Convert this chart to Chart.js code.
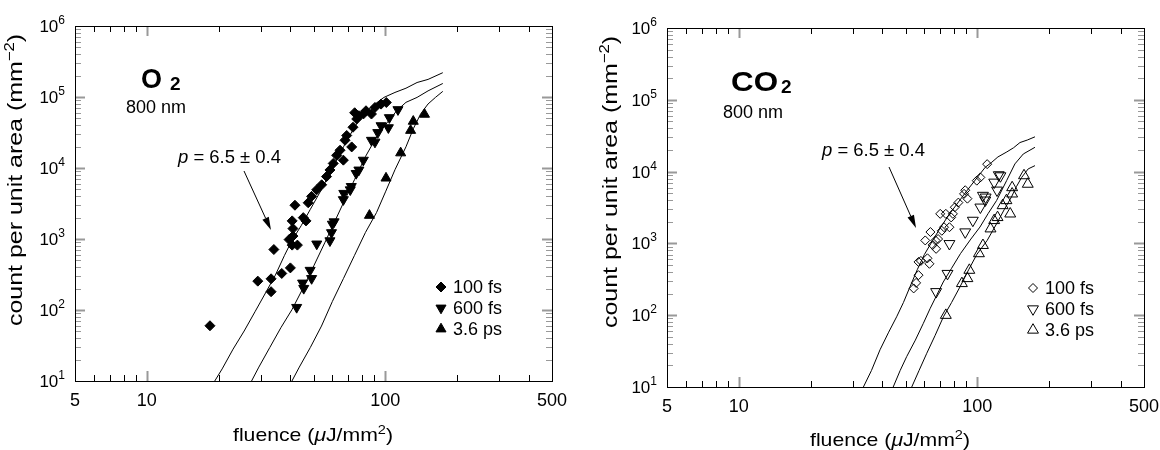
<!DOCTYPE html>
<html>
<head>
<meta charset="utf-8">
<script src="https://cdn.jsdelivr.net/npm/chart.js@4.4.1/dist/chart.umd.min.js"></script>
<style>
  html, body { margin: 0; padding: 0; background: #fff; }
  #wrap { position: relative; width: 1160px; height: 450px; }
  canvas { position: absolute; top: 0; }
  #o2 { left: 0; }
  #co2 { left: 580px; }
</style>
</head>
<body>
<div id="wrap">
  <canvas id="o2" width="580" height="450"></canvas>
  <canvas id="co2" width="580" height="450"></canvas>
</div>
<script>
// axis ticks and legend text
const xTickValues = [5, 10, 100, 500];
const xTickLabels = ['5', '10', '100', '500'];
const yTickExponents = [1, 2, 3, 4, 5, 6];
const seriesNames = ['100 fs', '600 fs', '3.6 ps'];

// O2, measured points [fluence, count]
const o2Fs100 = [[18.4,60],[29.2,255],[33.2,275],[33.2,181],[34.1,711],[36.8,327],[40,392],[39.5,980],
  [40.7,1800],[41,1400],[41,1100],[40.7,820],[42.8,820],[41.8,2990],[45.3,2000],[46.5,1800],[47.5,3240],
  [49.1,3990],[51.6,4940],[54.1,5800],[56.7,7570],[58.6,9380],[60.5,11600],[62.5,15100],[64.6,17800],
  [66.7,12900],[67.8,24600],[68.9,28700],[72.3,19800],[73.2,37500],[75.9,49000],[74.4,60000],[77.5,54500],
  [80.9,57600],[83,64000],[87.5,57600],[90.5,71300],[96,79400],[101,83600]];
const o2Fs600 = [[42.5,109],[45.5,202],[45,240],[49.1,278],[48.4,363],[51.6,852],[58.6,946],[59.5,1230],
  [60,1620],[61,1750],[66.7,3590],[67,4400],[71.3,4940],[72,5500],[75.5,8400],[77.5,9380],[80.9,12900],
  [87.5,24600],[90.5,23200],[93,31600],[96,39500],[103,37000],[104,51300],[113,66500]];
const o2Ps36 = [[85.8,2150],[100.7,7200],[116,16300],[127.7,33800],[131,45400],[146,57000]];

// O2, model curves
const o2Curve100 = [[19.27,10],[20.7,14.8],[23,28.1],[25.6,50.6],[28.5,96],[31.7,182],[34.6,310],[37.8,589],
  [40.6,953],[44.4,1540],[48.5,2620],[54,4980],[60,9960],[66.8,19900],[74.3,37800],[81.2,57900],[88.7,75700],
  [98.7,98700],[109.8,116000],[122.1,133000],[135.9,160000],[151.1,177000],[174.2,220000]];
const o2Curve600 = [[27.5,10],[29.5,15.7],[32.8,29.7],[36.5,56.4],[40.6,101],[45.2,203],[50.3,428],[55.9,902],
  [61.1,1710],[66.8,3250],[74.3,6860],[82.6,14500],[91.9,27400],[102.2,44300],[111.8,64400],[122.1,84100],
  [135.9,98700],[151.1,122000],[174.2,155000]];
const o2Curve36 = [[40.6,10],[43.6,15.7],[48.5,29.7],[54,59.4],[60,132],[66.8,279],[74.3,589],[82.6,1240],
  [91.9,2360],[100.5,4720],[109.8,9450],[122.1,19900],[131.1,35800],[140.7,57900],[151.1,79800],
  [162.3,98700],[174.2,120000]];

// CO2, measured points
const co2Fs100 = [[54.1,236],[55.4,282],[56.7,361],[56.7,552],[58,570],[61.8,620],[63,520],[60.5,1100],
  [63.6,1440],[65,950],[67.2,840],[66.8,1100],[68.5,1150],[69.9,2580],[71,1500],[72.5,1680],[73.8,2580],
  [76.4,1680],[77.7,2300],[79,2580],[80.5,3190],[83.3,3700],[88,4900],[89,5500],[90.9,4200],[99.5,7480],
  [103,8300],[110,12700]];
const co2Fs600 = [[67.2,212],[75,380],[76.4,990],[89,1440],[95.8,2090],[103,3190],[105.6,4650],[108.4,4400],
  [108,4000],[117.7,7100],[121,5500],[125,8700],[123,9000]];
const co2Ps36 = [[73.8,100],[86.2,277],[90.9,325],[92.6,424],[101.6,722],[105.6,940],[113.6,1600],[117.7,2090],
  [121.6,2300],[127.7,3370],[132.5,3960],[137.4,2580],[140,4900],[140,6000],[157,8800],[162.8,6700]];

// CO2, model curves
const co2Curve100 = [[33.3,10],[36,17],[39.1,33],[42.5,58],[45.9,95],[49,150],[52.2,248],[56,430],[60,700],
  [65,1100],[70,1650],[76,2500],[82,3500],[90,5300],[100,8300],[108,11500],[115,13500],[122,16000],
  [133,18800],[142,21500],[151,25400],[162,27500],[174.5,30500]];
const co2Curve600 = [[44.4,10],[47.5,17],[50.6,26.6],[55,45],[59.4,77],[63.5,125],[67.6,190],[72,290],[78,450],
  [85,720],[94,1150],[102.6,1690],[111,2600],[120.5,3960],[132.8,7520],[143.8,12800],[155.9,17600],[174.5,21800]];
const co2Curve36 = [[53.1,10],[57,17],[61.4,29.5],[66.5,52],[72.1,95],[78,150],[84.6,248],[92,430],[99.5,700],
  [110,1100],[120.5,1880],[130,3000],[139,4410],[146,6200],[153.5,8300],[163.4,10900],[174.5,12100]];

const FONT = '"Liberation Sans", Arial, Helvetica, sans-serif';
const markerStyles = [
  { style: 'rectRot', rot: 0 },
  { style: 'triangle', rot: 180 },
  { style: 'triangle', rot: 0 }
];

function toXY(arr) {
  return arr.map(p => ({ x: p[0], y: p[1] }));
}

function fontOf(p) {
  return (p.italic ? 'italic ' : '') + (p.bold ? 'bold ' : '') + p.size + 'px ' + FONT;
}

// text made of pieces (superscripts etc), optionally stretched to a width
function drawRich(ctx, parts, x, y, o = {}) {
  ctx.save();
  let w = 0;
  const widths = parts.map(p => {
    ctx.font = fontOf(p);
    const m = ctx.measureText(p.t).width;
    w += m;
    return m;
  });
  const sx = o.width ? o.width / w : 1;
  ctx.translate(x, y);
  if (o.rot) ctx.rotate(o.rot);
  ctx.scale(sx, 1);
  let cx = o.align === 'center' ? -w / 2 : o.align === 'right' ? -w : 0;
  ctx.fillStyle = '#000';
  ctx.textBaseline = 'alphabetic';
  ctx.textAlign = 'left';
  parts.forEach((p, i) => {
    ctx.font = fontOf(p);
    ctx.fillText(p.t, cx, -(p.up || 0));
    cx += widths[i];
  });
  ctx.restore();
}

function drawMarker(ctx, m, x, y, r, filled) {
  ctx.beginPath();
  if (m.style === 'rectRot') {
    ctx.moveTo(x, y - r); ctx.lineTo(x + r, y); ctx.lineTo(x, y + r); ctx.lineTo(x - r, y);
  } else {
    const s = m.rot ? -1 : 1;
    ctx.moveTo(x, y - s * r);
    ctx.lineTo(x + 0.866 * r, y + s * 0.5 * r);
    ctx.lineTo(x - 0.866 * r, y + s * 0.5 * r);
  }
  ctx.closePath();
  ctx.lineWidth = 1;
  ctx.strokeStyle = '#000';
  if (filled) { ctx.fillStyle = '#000'; ctx.fill(); }
  ctx.stroke();
}

function arrow(ctx, x0, y0, x1, y1) {
  const dx = x1 - x0, dy = y1 - y0, L = Math.hypot(dx, dy);
  const ux = dx / L, uy = dy / L, hl = 13, hw = 3.5;
  ctx.strokeStyle = '#000';
  ctx.lineWidth = 1;
  ctx.beginPath();
  ctx.moveTo(x0, y0);
  ctx.lineTo(x1 - ux * hl, y1 - uy * hl);
  ctx.stroke();
  ctx.fillStyle = '#000';
  ctx.beginPath();
  ctx.moveTo(x1, y1);
  ctx.lineTo(x1 - ux * hl - uy * hw, y1 - uy * hl + ux * hw);
  ctx.lineTo(x1 - ux * hl + uy * hw, y1 - uy * hl - ux * hw);
  ctx.closePath();
  ctx.fill();
}

function decoPlugin(d) {
  return {
    id: 'deco',
    afterDatasetsDraw(chart) {
      const ctx = chart.ctx, a = chart.chartArea;
      const xs = chart.scales.x, ys = chart.scales.y;
      ctx.save();

      // ticks on all four sides
      const tick = (vert, pos, len, col, lw) => {
        ctx.strokeStyle = col;
        ctx.lineWidth = lw;
        ctx.beginPath();
        if (vert) {
          ctx.moveTo(pos, a.bottom); ctx.lineTo(pos, a.bottom - len);
          ctx.moveTo(pos, a.top); ctx.lineTo(pos, a.top + len);
        } else {
          ctx.moveTo(a.left, pos); ctx.lineTo(a.left + len, pos);
          ctx.moveTo(a.right, pos); ctx.lineTo(a.right - len, pos);
        }
        ctx.stroke();
      };
      for (let dec = 1; dec <= 100; dec *= 10) {
        for (let m = 1; m <= 9; m++) {
          const v = m * dec;
          if (v <= 5 || v >= 500) continue;
          const px = Math.round(xs.getPixelForValue(v)) + 0.5;
          if (m === 1) tick(true, px, 10, '#999', 2);
          else tick(true, px, 6, '#000', 1);
        }
      }
      for (let e = 1; e <= 5; e++) {
        for (let m = 1; m <= 9; m++) {
          const v = m * Math.pow(10, e);
          if (v <= 10 || v >= 1e6) continue;
          const py = Math.round(ys.getPixelForValue(v)) + 0.5;
          if (m === 1) tick(false, py, 10, '#999', 2);
          else tick(false, py, 6, '#999', 1);
        }
      }

      // frame
      ctx.strokeStyle = '#000';
      ctx.lineWidth = 1;
      ctx.strokeRect(Math.round(a.left) + 0.5, Math.round(a.top) + 0.5,
        Math.round(a.right - a.left), Math.round(a.bottom - a.top));

      // tick labels
      xTickValues.forEach((v, i) => {
        drawRich(ctx, [{ t: xTickLabels[i], size: 18 }], xs.getPixelForValue(v), a.bottom + 25, { align: 'center' });
      });
      yTickExponents.forEach(e => {
        drawRich(ctx, [{ t: '10', size: 17 }, { t: String(e), size: 12, up: 8 }],
          a.left - 10, ys.getPixelForValue(Math.pow(10, e)) + 6, { align: 'right' });
      });

      // axis titles
      drawRich(ctx, [{ t: 'fluence (', size: 19 }, { t: '\u03bc', size: 19, italic: true },
        { t: 'J/mm', size: 19 }, { t: '2', size: 13, up: 7 }, { t: ')', size: 19 }],
        d.xTitle[0], d.xTitle[1], { align: 'center', width: 160 });
      drawRich(ctx, [{ t: 'count per unit area (mm', size: 21 }, { t: '\u22122', size: 14, up: 8 }, { t: ')', size: 21 }],
        d.yTitle[0], d.yTitle[1], { align: 'center', rot: -Math.PI / 2, width: 292 });

      // gas label
      drawRich(ctx, [{ t: d.gas, size: 28, bold: true }], d.gasPos[0], d.gasPos[1], { width: d.gasW });
      drawRich(ctx, [{ t: '2', size: 19, bold: true }], d.subPos[0], d.subPos[1]);
      drawRich(ctx, [{ t: '800 nm', size: 18 }], d.nmPos[0], d.nmPos[1], { width: 60 });

      // slope annotation
      drawRich(ctx, [{ t: 'p', size: 18, italic: true }, { t: ' = 6.5 \u00b1 0.4', size: 18 }],
        d.pPos[0], d.pPos[1], { width: 103 });
      arrow(ctx, d.arrow[0], d.arrow[1], d.arrow[2], d.arrow[3]);

      // legend
      d.legendRows.forEach((ly, i) => {
        const r = i === 0 ? d.rDia : d.rTri;
        drawMarker(ctx, markerStyles[i], d.legendX, ly, r, d.filled);
        drawRich(ctx, [{ t: seriesNames[i], size: 18 }], d.legendX + 12, ly + 6);
      });
      ctx.restore();
    }
  };
}

function panel(id, points, curves, d) {
  const fill = d.filled ? '#000' : 'rgba(0,0,0,0)';
  const markerSets = points.map((pts, i) => ({
    data: toXY(pts),
    pointStyle: markerStyles[i].style,
    rotation: markerStyles[i].rot,
    pointRadius: i === 0 ? d.rDia : d.rTri,
    backgroundColor: fill,
    borderColor: '#000',
    borderWidth: 1,
    showLine: false,
    order: 0
  }));
  const lineSets = curves.map(c => ({
    data: toXY(c),
    showLine: true,
    borderColor: '#000',
    borderWidth: 1,
    pointRadius: 0,
    tension: 0,
    order: 1
  }));
  return new Chart(document.getElementById(id), {
    type: 'scatter',
    data: { datasets: markerSets.concat(lineSets) },
    options: {
      responsive: false,
      animation: false,
      events: [],
      layout: { padding: d.pad, autoPadding: false },
      scales: {
        x: { type: 'logarithmic', min: 5, max: 500, display: false },
        y: { type: 'logarithmic', min: 10, max: 1e6, display: false }
      },
      plugins: { legend: { display: false }, tooltip: { enabled: false } }
    },
    plugins: [decoPlugin(d)]
  });
}

panel('o2', [o2Fs100, o2Fs600, o2Ps36], [o2Curve100, o2Curve600, o2Curve36], {
  pad: { left: 75, right: 28, top: 26, bottom: 69 },
  filled: true, rDia: 5, rTri: 5.8,
  xTitle: [313, 441], yTitle: [22, 180],
  gas: 'O', gasPos: [141, 88], gasW: 21, subPos: [170, 90], nmPos: [126, 113],
  pPos: [178, 163], arrow: [244, 171, 271, 230],
  legendX: 441, legendRows: [287, 308, 329]
});

panel('co2', [co2Fs100, co2Fs600, co2Ps36], [co2Curve100, co2Curve600, co2Curve36], {
  pad: { left: 87, right: 16, top: 28, bottom: 63 },
  filled: false, rDia: 4.5, rTri: 6.3,
  xTitle: [310, 446], yTitle: [37, 182],
  gas: 'CO', gasPos: [151, 91], gasW: 47, subPos: [201, 93], nmPos: [143, 118],
  pPos: [242, 156], arrow: [309, 167, 336, 228],
  legendX: 453, legendRows: [288, 309, 330]
});
</script>
</body>
</html>
